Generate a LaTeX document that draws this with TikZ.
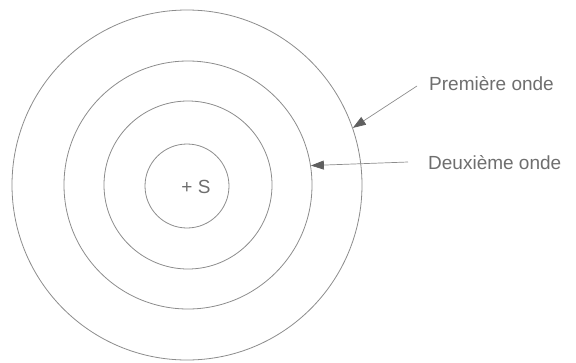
\documentclass[tikz,border=0pt]{standalone}
\usepackage{fontspec}
\setmainfont{Liberation Sans}
\usetikzlibrary{arrows.meta}
\definecolor{linegray}{RGB}{140,140,140}
\definecolor{textgray}{RGB}{110,110,110}
\definecolor{tipgray}{RGB}{95,95,95}
\begin{document}
\begin{tikzpicture}[x=1pt,y=-1pt,
  wave/.style={circle,draw=linegray,line width=0.8pt,inner sep=0pt},
  lbl/.style={anchor=west,text=textgray,font=\fontsize{19}{22}\selectfont,inner sep=0pt},
  pointer/.style={draw=linegray,line width=0.7pt,-{Triangle[length=13pt,width=9pt,color=tipgray]}}]
\useasboundingbox (0,0) rectangle (576,362);
\node[wave,minimum size=350pt] (w1) at (187,185) {};
\node[wave,minimum size=248pt] (w2) at (188,185) {};
\node[wave,minimum size=168pt] (w3) at (188,185) {};
\node[wave,minimum size=84pt]  (w4) at (187,186) {};
\node[text=textgray,font=\fontsize{19}{22}\selectfont,inner sep=0pt] (s) at (196,187) {+ S};
\node[lbl] (l1) at (429,84) {Première onde};
\node[lbl] (l2) at (428,163) {Deuxième onde};
\coordinate (a1) at (417,86);
\coordinate (a2) at (408,162);
\draw[pointer] (a1) -- (w1.19.7);
\draw[pointer] (a2) -- (w2.9.2);
\end{tikzpicture}
\end{document}
